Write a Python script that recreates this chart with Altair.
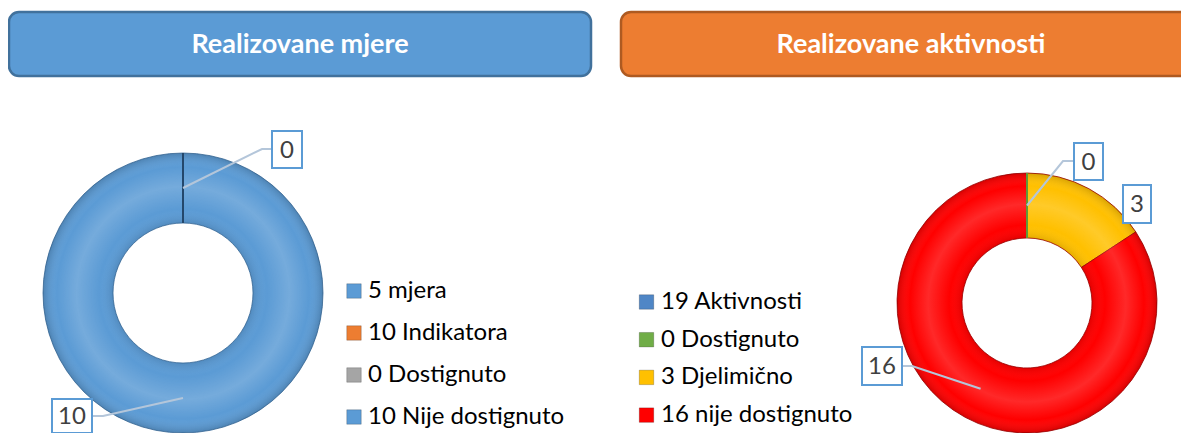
import math
import altair as alt
import pandas as pd

# ---------------- data ----------------
left_title = "Realizovane mjere"
right_title = "Realizovane aktivnosti"

left_categories = ["5 mjera", "10 Indikatora", "0 Dostignuto", "10 Nije dostignuto"]
left_values = [None, None, 0, 10]

right_categories = ["19 Aktivnosti", "0 Dostignuto", "3 Djelimično", "16 nije dostignuto"]
right_values = [None, 0, 3, 16]

# ---------------- style / layout ----------------
left_colors = ["#5B9BD5", "#ED7D31", "#A5A5A5", "#5B9BD5"]
right_colors = ["#4F86C6", "#70AD47", "#FFC000", "#FF0000"]
seam_colors = {"L2": "#24476B", "R1": "#5E9A38"}

W, H = 1173, 425          # drawing area (page minus 8px margin)
M = 8                     # page margin
FONT = "Lato"

xs = alt.Scale(domain=[M, M + W], nice=False, zero=False)
ys = alt.Scale(domain=[M, M + H], nice=False, zero=False, reverse=True)

left_donut = dict(cx=183, cy=293, r_in=70, r_out=140, stroke="#3A6C9C")
right_donut = dict(cx=1027, cy=303, r_in=65, r_out=130, stroke="#A00000")

left_legend = dict(sx=354, tx=368, y0=291, dy=42)
right_legend = dict(sx=646.5, tx=661, y0=302, dy=37.7)

# label callout boxes: (x, x2, y, y2, elbow_x, elbow_y, edge_x) ; None elbow = no leader
left_callouts = {2: (272, 302, 131, 168, 262, 149, 272),
                 3: (52, 92, 399, 433, 103, 416, 92)}
right_callouts = {1: (1074, 1103, 143, 180, 1063, 161, 1074),
                  2: (1123, 1151, 185, 223, None, None, None),
                  3: (862, 902, 347, 385, 912, 366, 902)}


def X(f):
    return alt.X(f, type="quantitative", scale=xs, axis=None)


def Y(f):
    return alt.Y(f, type="quantitative", scale=ys, axis=None)


keys = [f"L{i}" for i in range(4)] + [f"R{i}" for i in range(4)]
color_scale = alt.Scale(domain=keys, range=left_colors + right_colors)

# ---------------- title boxes ----------------
title_df = pd.DataFrame({
    "x": [9, 621], "x2": [591, 1205], "y": [12, 12], "y2": [76, 76],
    "tx": [300, 911], "ty": [53, 53], "text": [left_title, right_title],
})
title_left_box = alt.Chart(title_df.iloc[[0]]).mark_rect(
    fill="#5B9BD5", stroke="#41719C", strokeWidth=2.5, cornerRadius=10
).encode(x=X("x"), x2="x2", y=Y("y"), y2="y2")
title_right_box = alt.Chart(title_df.iloc[[1]]).mark_rect(
    fill="#ED7D31", stroke="#AE5A21", strokeWidth=2.5, cornerRadius=10
).encode(x=X("x"), x2="x2", y=Y("y"), y2="y2")
title_text = alt.Chart(title_df).mark_text(
    font=FONT, fontSize=27, fontWeight="bold", color="white",
    align="center", baseline="alphabetic"
).encode(x=X("tx"), y=Y("ty"), text="text:N")


# ---------------- donuts ----------------
def donut_frame(cats, vals, prefix):
    rows = []
    for i, (c, v) in enumerate(zip(cats, vals)):
        if v is not None:
            rows.append({"category": c, "value": v, "key": f"{prefix}{i}", "idx": i})
    return pd.DataFrame(rows)


def donut_layer(df, d):
    return alt.Chart(df).mark_arc(
        innerRadius=d["r_in"], outerRadius=d["r_out"], stroke=d["stroke"], strokeWidth=0.8
    ).encode(
        x=alt.XDatum(d["cx"], scale=xs, axis=None),
        y=alt.YDatum(d["cy"], scale=ys, axis=None),
        theta=alt.Theta("value:Q", stack=True),
        color=alt.Color("key:N", scale=color_scale, legend=None),
        order=alt.Order("idx:Q"),
    )


shade = alt.RadialGradient(
    gradient="radial", x1=0.5, y1=0.5, r1=0, x2=0.5, y2=0.5, r2=0.5,
    stops=[
        alt.GradientStop(offset=0.0, color="rgba(0,0,0,0.10)"),
        alt.GradientStop(offset=0.5, color="rgba(0,0,0,0.10)"),
        alt.GradientStop(offset=0.6, color="rgba(255,255,255,0.0)"),
        alt.GradientStop(offset=0.76, color="rgba(255,255,255,0.16)"),
        alt.GradientStop(offset=0.9, color="rgba(255,255,255,0.0)"),
        alt.GradientStop(offset=1.0, color="rgba(0,0,0,0.16)"),
    ],
)


def shade_layer(d):
    return alt.Chart(pd.DataFrame({"k": [0]})).mark_arc(
        innerRadius=d["r_in"], outerRadius=d["r_out"], theta=0, theta2=2 * math.pi,
        fill=shade, strokeWidth=0
    ).encode(
        x=alt.XDatum(d["cx"], scale=xs, axis=None),
        y=alt.YDatum(d["cy"], scale=ys, axis=None),
    )


def seams(vals, prefix, d):
    """radial border line drawn where a slice has zero size"""
    present = [(i, v) for i, v in enumerate(vals) if v is not None]
    total = sum(v for _, v in present)
    cum, rows = 0, []
    for i, v in present:
        if v == 0:
            a = 2 * math.pi * cum / total
            rows.append({"key": f"{prefix}{i}",
                         "x": d["cx"] + d["r_in"] * math.sin(a), "y": d["cy"] - d["r_in"] * math.cos(a),
                         "x2": d["cx"] + d["r_out"] * math.sin(a), "y2": d["cy"] - d["r_out"] * math.cos(a)})
        cum += v
    return rows


seam_df = pd.DataFrame(seams(left_values, "L", left_donut) + seams(right_values, "R", right_donut))
seam_layer = alt.Chart(seam_df).mark_rule(strokeWidth=2).encode(
    x=X("x"), y=Y("y"), x2="x2", y2="y2",
    color=alt.Color("key:N", scale=alt.Scale(domain=list(seam_colors), range=list(seam_colors.values())),
                    legend=None),
)

left_arcs = donut_layer(donut_frame(left_categories, left_values, "L"), left_donut)
right_arcs = donut_layer(donut_frame(right_categories, right_values, "R"), right_donut)


# ---------------- data labels with leaders ----------------
def callouts(vals, d, boxes):
    present = [(i, v) for i, v in enumerate(vals) if v is not None]
    total = sum(v for _, v in present)
    rmid = (d["r_in"] + d["r_out"]) / 2
    cum = 0
    box_rows, line_rows = [], []
    for i, v in present:
        a = 2 * math.pi * (cum + v / 2) / total
        ax, ay = d["cx"] + rmid * math.sin(a), d["cy"] - rmid * math.cos(a)
        cum += v
        if i not in boxes:
            continue
        bx, bx2, by, by2, ex, ey, edge = boxes[i]
        box_rows.append({"x": bx, "x2": bx2, "y": by, "y2": by2,
                         "tx": (bx + bx2) / 2, "ty": (by + by2) / 2 + 1, "text": str(v)})
        if ex is not None:
            lid = f"{d['cx']}-{i}"
            line_rows += [
                {"lid": lid, "seq": 0, "x": edge, "y": ey},
                {"lid": lid, "seq": 1, "x": ex, "y": ey},
                {"lid": lid, "seq": 2, "x": ax, "y": ay},
            ]
    return box_rows, line_rows


lb, ll = callouts(left_values, left_donut, left_callouts)
rb, rl = callouts(right_values, right_donut, right_callouts)
box_df = pd.DataFrame(lb + rb)
line_df = pd.DataFrame(ll + rl)

leaders = alt.Chart(line_df).mark_line(color="#B4C6DA", strokeWidth=2).encode(
    x=X("x"), y=Y("y"), detail="lid:N", order="seq:Q")
label_boxes = alt.Chart(box_df).mark_rect(
    fill="white", stroke="#5B9BD5", strokeWidth=2).encode(
    x=X("x"), x2="x2", y=Y("y"), y2="y2")
label_text = alt.Chart(box_df).mark_text(
    font=FONT, fontSize=24, color="#404040", align="center", baseline="middle").encode(
    x=X("tx"), y=Y("ty"), text="text:N")


# ---------------- legends ----------------
def legend_frame(cats, prefix, lg):
    return pd.DataFrame([
        {"key": f"{prefix}{i}", "label": c, "sx": lg["sx"], "tx": lg["tx"],
         "y": lg["y0"] + i * lg["dy"]}
        for i, c in enumerate(cats)])


leg_df = pd.concat([legend_frame(left_categories, "L", left_legend),
                    legend_frame(right_categories, "R", right_legend)])
leg_sq = alt.Chart(leg_df).mark_square(size=210, opacity=1, stroke="#00000033", strokeWidth=1).encode(
    x=X("sx"), y=Y("y"), color=alt.Color("key:N", scale=color_scale, legend=None))
leg_txt = alt.Chart(leg_df).mark_text(
    font=FONT, fontSize=24, color="black", align="left", baseline="middle").encode(
    x=X("tx"), y=Y("y"), text="label:N")

chart = alt.layer(
    title_left_box, title_right_box, title_text,
    left_arcs, right_arcs,
    shade_layer(left_donut), shade_layer(right_donut), seam_layer,
    leaders, label_boxes, label_text,
    leg_sq, leg_txt,
).resolve_scale(theta="independent", color="independent").properties(
    width=W, height=H, padding=0, autosize="none", background="white"
).configure_view(stroke=None)

chart.save("out.html", embed_options={"renderer": "svg", "actions": False})
